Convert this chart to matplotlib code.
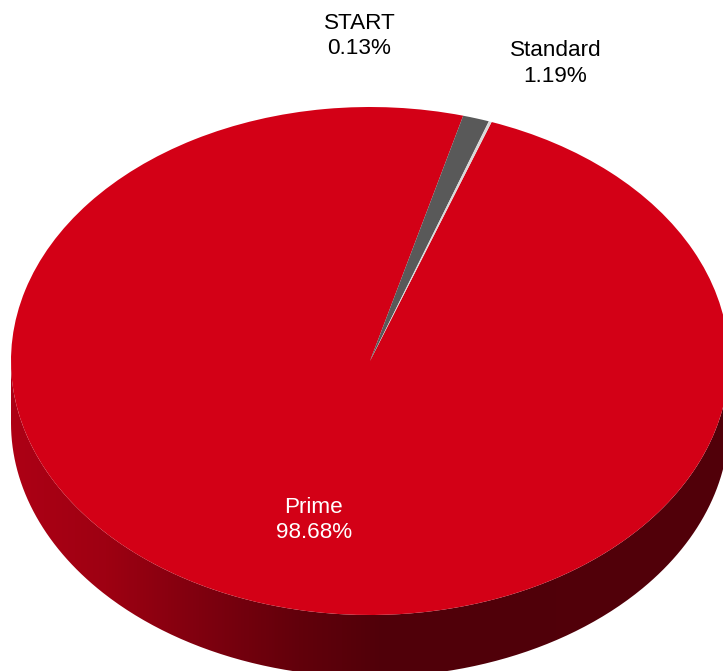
import numpy as np
import matplotlib
matplotlib.use("Agg")
import matplotlib.pyplot as plt
from matplotlib.colors import LinearSegmentedColormap
from matplotlib.patches import PathPatch
from matplotlib.path import Path

categories = ["Prime", "Standard", "START"]
values = [98.68, 1.19, 0.13]
colors = ["#D30016", "#595959", "#D9D9D9"]
text_colors = ["white", "black", "black"]
label_px = [(314, 520), (555.5, 63.5), (359.5, 36)]

W, H = 723, 671
CX, CY, RX, RY = 370, 361, 359, 254
DEPTH = 62 / RY

plt.rcParams["font.family"] = ["Liberation Sans", "DejaVu Sans"]
fig = plt.figure(figsize=(W / 100, H / 100), dpi=100)
ax = fig.add_axes([(CX - RX) / W, 1 - (CY + RY) / H, 2 * RX / W, 2 * RY / H])
ax.set_aspect("auto")
ax.axis("off")

# extruded side wall
t = np.linspace(np.pi, 2 * np.pi, 400)
xs = np.cos(t)
wall = np.column_stack([
    np.r_[xs, xs[::-1]],
    np.r_[np.sin(t) - DEPTH, np.sin(t[::-1])],
])
cmap = LinearSegmentedColormap.from_list(
    "wall",
    [(0.0, "#AD0015"), (0.13, "#9E0012"), (0.26, "#80000F"), (0.40, "#62000B"),
     (0.52, "#500009"), (1.0, "#52000A")],
)
im = ax.imshow(np.linspace(0, 1, 512)[None, :], cmap=cmap, extent=(-1, 1, -1 - DEPTH, 0),
               aspect="auto", zorder=1, interpolation="bilinear")
patch = PathPatch(Path(wall), transform=ax.transData, fc="none", ec="none")
ax.add_patch(patch)
patch.set_clip_on(False)

# top face
wedges, _ = ax.pie(values, colors=colors, startangle=70.2, counterclock=False, radius=1,
                   wedgeprops={"linewidth": 0, "zorder": 2, "clip_on": False})
ax.set_aspect("auto")
ax.set_xlim(-1, 1)
ax.set_ylim(-1, 1)
im.set_clip_box(fig.bbox)
im.set_clip_path(patch)

for cat, val, col, (px, py) in zip(categories, values, text_colors, label_px):
    fig.text(px / W, 1 - py / H, f"{cat}\n{val:.2f}%", color=col, fontsize=16.2,
             ha="center", va="center", linespacing=1.28, zorder=5)

fig.savefig("out.png", dpi=100)
